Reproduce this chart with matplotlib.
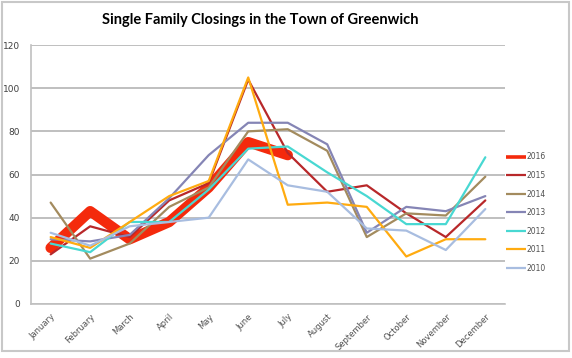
import numpy as np
import matplotlib
matplotlib.use("Agg")
import matplotlib.pyplot as plt
from matplotlib.patches import Rectangle
from matplotlib.lines import Line2D

months = ["January", "February", "March", "April", "May", "June", "July",
          "August", "September", "October", "November", "December"]

y2016 = [26, 43, 30, 38, 54, 75, 69]
y2015 = [23, 36, 31, 48, 56, 104, 70, 52, 55, 42, 31, 48]
y2014 = [47, 21, 28, 45, 54, 80, 81, 71, 31, 42, 41, 59]
y2013 = [30, 29, 32, 49, 69, 84, 84, 74, 33, 45, 43, 50]
y2012 = [28, 24, 38, 38, 53, 72, 73, 61, 50, 37, 37, 68]
y2011 = [31, 26, 38, 50, 57, 105, 46, 47, 45, 22, 30, 30]
y2010 = [33, 27, 36, 38, 40, 67, 55, 52, 35, 34, 25, 44]

series = [
    ("2016", y2016, "#f42a0c", 7.5),
    ("2015", y2015, "#b8282a", 1.6),
    ("2014", y2014, "#a38b5e", 1.6),
    ("2013", y2013, "#8585b5", 1.6),
    ("2012", y2012, "#48d8d2", 1.6),
    ("2011", y2011, "#ffab10", 1.6),
    ("2010", y2010, "#a8bde0", 1.6),
]

fig = plt.figure(figsize=(5.72, 3.58), dpi=100)
ax = fig.add_axes([0.054, 0.151, 0.829, 0.723])

x = np.arange(len(months))
handles = []
for label, vals, col, lw in series:
    ax.plot(x[:len(vals)], vals, color=col, lw=lw,
            solid_joinstyle="round", solid_capstyle="round")
    # legend keys are thinner than the lines
    handles.append(Line2D([], [], color=col, lw=min(lw, 2.6), label=label,
                          solid_capstyle="butt"))

ax.set_xlim(-0.5, len(months) - 0.5)
ax.set_ylim(0, 120)
ax.set_yticks(range(0, 121, 20))
ax.set_xticks(x)
ax.set_xticklabels(months, rotation=45, ha="right", va="top",
                   rotation_mode="anchor", fontsize=6, color="#505050")
ax.tick_params(axis="y", labelsize=6.5, colors="#404040", length=0, pad=8)
ax.tick_params(axis="x", length=0, pad=6)
ax.grid(axis="y", color="#b4b4b4", lw=1.2)
ax.set_axisbelow(True)
for s in ["top", "right"]:
    ax.spines[s].set_visible(False)
for s in ["left", "bottom"]:
    ax.spines[s].set_color("#c0c0c0")
    ax.spines[s].set_linewidth(1.2)

leg = ax.legend(handles=handles, loc="center left", bbox_to_anchor=(0.995, 0.353),
                frameon=False, fontsize=5.5, handlelength=2.6, handletextpad=0.1,
                labelspacing=1.25, borderaxespad=0)
for t in leg.get_texts():
    t.set_color("#505050")

fig.text(0.455, 0.943, "Single Family Closings in the Town of Greenwich",
         ha="center", va="center", fontsize=10.5, fontweight="bold",
         family="Lato")

fig.patches.append(Rectangle((0.004, 0.02), 0.99, 0.975, transform=fig.transFigure,
                             fill=False, edgecolor="#c8c8c8", lw=1.5))

fig.savefig("out.png", dpi=100)
